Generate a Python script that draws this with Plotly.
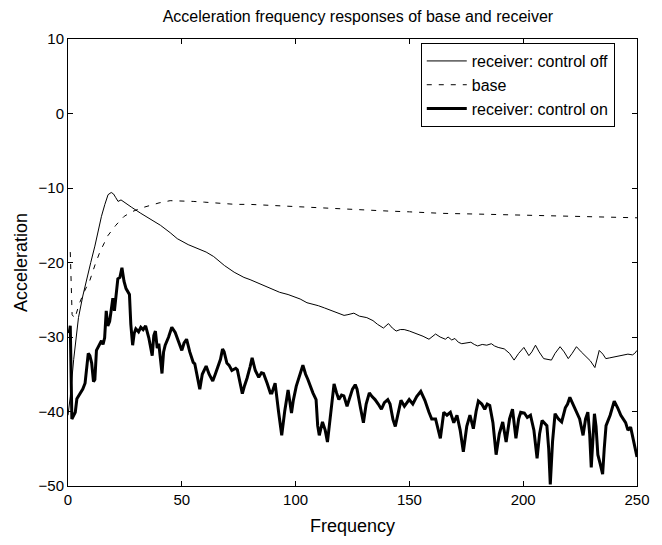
import plotly.graph_objects as go

# receiver: control off (thin solid)
off_f = [0, 1, 2.5, 4.6, 6.5, 8.2, 10, 11.8, 13.2, 14.7, 16.2, 17.6, 19, 20, 21, 22, 23.3, 25, 28, 32,
         36, 40.6, 44.9, 48, 52.8, 56, 60.7, 64, 68.7, 73, 77.3, 80, 83, 87.2, 90, 93, 96.7, 100, 102, 105,
         108, 110, 112.7, 116, 119, 121.3, 123, 125.6, 128, 131.3, 134, 136, 138.6, 140.8, 142.5, 144.2, 146, 147.7, 150, 151.8,
         154, 156, 158.6, 160, 161.5, 163.5, 165.8, 167, 168.6, 170, 171.5, 173, 175, 177, 178.5, 180, 182, 184, 186, 187.4,
         189, 191.7, 194, 196, 198, 200.3, 202.5, 203.8, 205.4, 207, 209, 211, 212.4, 214, 216.2, 218, 219.8, 221.5, 223.4, 225.5,
         227.6, 229.5, 231.5, 233.4, 235, 236.3, 238, 240, 242, 244, 246, 248, 249, 250]
off_v = [-40.5, -38, -33, -27.4, -24.5, -22.1, -20, -17.8, -15.8, -13.8, -12.2, -10.9, -10.6, -10.8, -11.3, -11.8, -11.6, -12.0, -12.6, -13.4,
         -14.2, -15.0, -16.0, -16.8, -17.6, -18.0, -18.6, -19.2, -20.4, -21.3, -22.0, -22.3, -22.7, -23.3, -23.6, -24.0, -24.3, -24.7, -24.9, -25.4,
         -25.6, -25.8, -26.1, -26.5, -26.8, -27.1, -27.0, -26.8, -27.2, -27.4, -27.8, -28.3, -28.8, -28.2, -28.8, -29.2, -29.0, -29.0, -29.2, -29.4,
         -29.6, -29.9, -30.3, -30.0, -29.6, -30.0, -30.3, -30.0, -30.4, -30.2, -30.7, -30.9, -30.8, -30.7, -31.0, -31.2, -31.0, -31.1, -30.9, -31.2,
         -31.4, -31.6, -32.2, -33.1, -32.2, -31.4, -32.5, -32.0, -31.1, -32.0, -32.9, -33.0, -33.1, -32.2, -31.3, -32.0, -32.9, -32.2, -31.3, -32.0,
         -32.6, -33.2, -34.1, -31.8, -32.3, -32.9, -32.8, -32.7, -32.6, -32.5, -32.3, -32.4, -32.2, -31.8]

# base (dashed)
base_f = [1, 1.8, 3, 5, 7, 9.6, 12, 14, 17.5, 19, 21, 24.7, 28, 32, 36, 40, 44.9, 50, 55, 60,
          66, 73.7, 80, 92.4, 100, 110, 120, 128, 141, 150, 164, 180, 194.6, 205, 219, 232, 245, 250]
base_v = [-18.6, -27, -27.5, -25.5, -24, -22.4, -20.2, -18.6, -16.4, -15.8, -15, -13.8, -13.2, -12.7, -12.3, -12.0, -11.7, -11.7, -11.8, -11.9,
          -12.0, -12.2, -12.2, -12.4, -12.5, -12.6, -12.8, -12.9, -13.1, -13.2, -13.4, -13.5, -13.6, -13.7, -13.8, -13.9, -14.0, -14.0]

# receiver: control on (thick solid)
on_f = [0.5, 1.0, 1.7, 2.5, 3.2, 3.9, 5.3, 6.5, 7.5, 8.9, 9.6, 10.4, 11.2, 11.8, 12.5, 13.6, 14.7, 15.4, 16.1, 16.8,
        17.5, 18.3, 19.0, 19.7, 20.4, 21.2, 21.9, 22.8, 23.7, 24.6, 25.5, 27.0, 27.6, 28.4, 29.1, 29.8, 31.0, 32.0, 33.0, 34.1,
        35.5, 37.0, 37.7, 38.4, 39.2, 39.9, 40.6, 41.3, 42.0, 42.7, 44.2, 45.6, 47.1, 48.5, 50.0, 51.0, 52.1, 53.5, 55.0, 55.7,
        57.0, 57.9, 59.0, 60.7, 62.0, 63.6, 64.7, 65.8, 67.0, 67.9, 68.6, 69.8, 70.8, 72.0, 73.7, 74.4, 75.5, 76.6, 77.6, 78.7,
        80.0, 80.9, 82.3, 83.8, 85.0, 85.9, 87.5, 88.9, 89.6, 91.0, 92.5, 93.9, 95.2, 96.7, 98.2, 99.0, 100.3, 101.8, 103.2, 104.4,
        105.4, 107.6, 109.0, 109.7, 110.4, 111.8, 113.0, 114.0, 115.5, 116.9, 118.0, 119.0, 120.2, 121.2, 122.6, 124.1, 125.0, 126.2, 127.0, 128.5,
        129.8, 131.0, 132.4, 133.6, 134.9, 136.3, 137.7, 139.0, 140.5, 141.5, 142.8, 143.8, 144.9, 146.3, 147.8, 149.9, 151.5, 153.2, 155.0, 156.8,
        158.6, 159.8, 161.5, 162.9, 163.6, 165.1, 166.5, 168.0, 169.5, 170.9, 172.3, 173.7, 175.2, 176.6, 178.1, 179.3, 180.3, 181.8, 183.1, 184.2,
        185.3, 186.7, 188.1, 189.5, 191.0, 192.5, 194.0, 195.3, 196.8, 198.0, 198.9, 200.5, 201.8, 203.2, 204.7, 206.1, 207.2, 208.3, 209.4, 210.4,
        211.2, 211.9, 212.9, 214.0, 215.5, 216.9, 218.5, 219.5, 220.5, 221.9, 223.4, 224.8, 226.3, 227.4, 228.4, 229.2, 229.9, 230.6, 231.3, 232.0,
        232.8, 233.8, 234.9, 235.6, 236.4, 238.2, 240.0, 241.5, 242.9, 245.0, 246.0, 247.2, 248.5, 250.0]
on_v = [-29.5, -28.5, -41.0, -40.5, -40.1, -38.3, -37.5, -37.0, -36.2, -32.2, -32.5, -33.5, -36.0, -35.7, -31.8, -31.2, -30.5, -31.0, -30.1, -26.5,
        -28.5, -27.9, -26.0, -24.8, -26.5, -23.9, -22.2, -22.0, -20.7, -22.5, -23.5, -24.3, -28.3, -31.1, -29.5, -28.9, -29.3, -28.7, -29.0, -28.5,
        -30.1, -32.5, -29.8, -29.2, -31.5, -30.9, -33.0, -34.9, -32.0, -31.1, -30.0, -28.7, -29.4, -30.7, -31.8, -30.8, -30.3, -32.0, -33.4, -33.6,
        -35.5, -37.0, -35.0, -33.9, -35.0, -35.9, -35.0, -34.0, -33.0, -31.6, -32.0, -33.5, -33.8, -34.5, -34.2, -34.4, -36.0, -37.6, -36.5, -35.5,
        -34.0, -32.8, -34.5, -35.4, -34.8, -34.9, -36.2, -37.5, -37.5, -36.2, -40.0, -43.2, -40.0, -37.1, -40.2, -38.5, -36.6, -35.0, -33.8, -35.0,
        -35.7, -37.5, -38.4, -41.9, -43.2, -41.4, -42.5, -44.1, -40.0, -36.3, -37.5, -38.4, -37.8, -37.9, -39.3, -37.7, -37.0, -36.4, -37.0, -39.5,
        -41.5, -39.0, -37.5, -38.0, -38.4, -39.0, -39.7, -38.8, -38.4, -39.0, -41.1, -42.0, -40.5, -38.5, -39.3, -38.4, -39.0, -38.0, -37.3, -38.5,
        -40.1, -41.0, -41.0, -42.8, -43.6, -40.1, -40.5, -40.1, -41.5, -40.5, -42.5, -45.4, -42.0, -40.5, -42.3, -40.0, -38.6, -39.0, -39.7, -39.0,
        -39.2, -41.5, -45.8, -43.0, -41.4, -44.1, -41.0, -39.7, -43.6, -41.0, -40.1, -40.2, -40.8, -40.5, -42.5, -46.3, -43.0, -41.2, -41.5, -41.9,
        -45.0, -49.8, -44.0, -40.3, -41.0, -41.4, -39.5, -39.0, -38.1, -39.0, -40.1, -41.0, -43.2, -41.0, -40.1, -43.0, -47.5, -43.0, -40.3, -42.0,
        -45.8, -47.0, -48.4, -45.0, -41.9, -40.5, -38.6, -39.5, -40.5, -41.5, -42.5, -42.1, -44.0, -46.1]

font = "Arial, Liberation Sans, sans-serif"

fig = go.Figure()
fig.add_trace(go.Scatter(x=off_f, y=off_v, mode="lines", name="receiver: control off",
                         line=dict(color="black", width=1)))
fig.add_trace(go.Scatter(x=base_f, y=base_v, mode="lines", name="base",
                         line=dict(color="black", width=1, dash="5px,7px")))
fig.add_trace(go.Scatter(x=on_f, y=on_v, mode="lines", name="receiver: control on",
                         line=dict(color="black", width=3)))

axis_style = dict(showline=True, linecolor="black", linewidth=1, mirror="ticks",
                  ticks="inside", ticklen=5, tickcolor="black", showgrid=False,
                  zeroline=False, tickfont=dict(family=font, size=15, color="black"))

# the page body has an 8px margin, so the figure is a bit smaller than the window
fig.update_layout(
    width=654, height=537,
    margin=dict(l=58, r=17, t=31, b=50),
    paper_bgcolor="white", plot_bgcolor="white",
    font=dict(family=font, size=15, color="black"),
    title=dict(text="Acceleration frequency responses of base and receiver",
               x=0.535, xanchor="center", y=0.985, yanchor="middle",
               font=dict(family=font, size=16, color="black")),
    legend=dict(x=0.62, y=0.991, xanchor="left", yanchor="top",
                bordercolor="black", borderwidth=1, bgcolor="white",
                font=dict(family=font, size=16, color="black"),
                itemwidth=40, tracegroupgap=0),
)
fig.update_xaxes(range=[0, 250], dtick=50, title=dict(text="Frequency", standoff=12), **axis_style)
fig.update_yaxes(range=[-50, 10], dtick=10, title=dict(text="Acceleration", standoff=6), **axis_style)

fig.write_html("out.html")
